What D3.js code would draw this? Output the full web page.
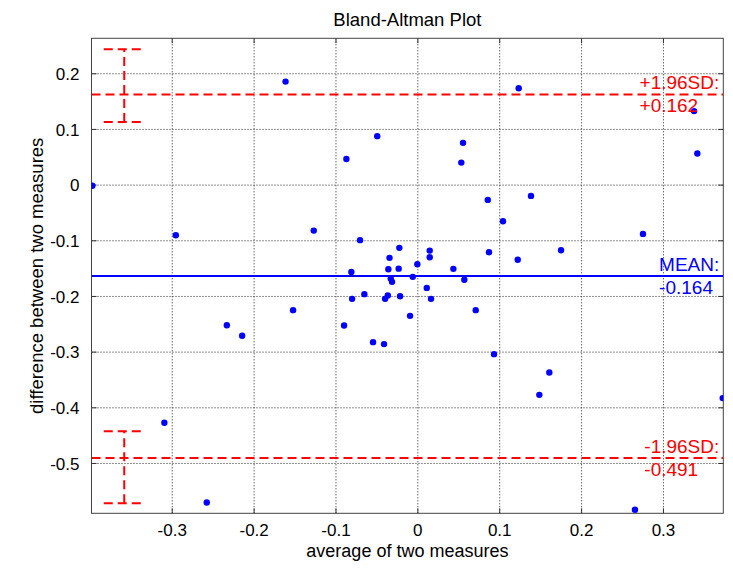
<!DOCTYPE html>
<html>
<head>
<meta charset="utf-8">
<script src="https://cdn.jsdelivr.net/npm/d3@7"></script>
<style>
  body { margin: 0; background: #fff; }
  svg { display: block; font-family: "Liberation Sans", Arial, sans-serif; }
</style>
</head>
<body>
<div id="container"><svg></svg></div>
<script>
let width = 733
let height = 572

// average of two measures
let avg = [-0.397, -0.295, -0.161, -0.049, -0.0867, 0.0558, 0.0537, 0.086, 0.1238, 0.338,
    0.342, 0.1388, 0.1046, 0.2756, 0.0875, 0.1755, 0.1226, -0.1265, -0.07, -0.022,
    -0.034, 0.0151, 0.0151, 0.0, -0.0806, -0.0354, -0.0228, 0.044, -0.0325, -0.0309,
    -0.0056, 0.0574, 0.0115, -0.0647, -0.0797, -0.0361, -0.0394, -0.0211, 0.0167, 0.0713,
    -0.0089, -0.1518, -0.2327, -0.214, -0.0895, -0.0541, -0.0407, -0.309, -0.2572, 0.0937,
    0.1612, 0.149, 0.373, 0.2658]
// difference between two measures
let diff = [-0.002, -0.091, 0.185, 0.087, 0.046, 0.075, 0.0395, -0.0275, 0.173, 0.132,
    0.056, -0.0203, -0.0657, -0.0885, -0.1214, -0.1178, -0.135, -0.0826, -0.0998, -0.1136,
    -0.1316, -0.1185, -0.1304, -0.143, -0.157, -0.152, -0.151, -0.1513, -0.1688, -0.1747,
    -0.1657, -0.171, -0.1855, -0.1968, -0.2052, -0.1993, -0.2052, -0.2004, -0.2052, -0.2255,
    -0.2357, -0.2255, -0.2525, -0.2716, -0.2531, -0.283, -0.2865, -0.4278, -0.571, -0.3045,
    -0.3375, -0.3776, -0.3835, -0.584]

let meanDiff = -0.164
let upperLoA = 0.162
let lowerLoA = -0.491
let upperCI = [0.1125, 0.243]
let lowerCI = [-0.5725, -0.443]
let ciX = -0.358
let ciCapHalf = 0.025

let xTicks = [-0.3, -0.2, -0.1, 0, 0.1, 0.2, 0.3]
let yTicks = [0.2, 0.1, 0, -0.1, -0.2, -0.3, -0.4, -0.5]
let xDomain = [-0.398, 0.3737]
let yDomain = [-0.5904, 0.2628]

let lines = [
    { value: upperLoA, color: 'red', dash: '9,5', top: '+1.96SD:', bottom: '+0.162' },
    { value: meanDiff, color: 'blue', dash: null, top: 'MEAN:', bottom: '-0.164' },
    { value: lowerLoA, color: 'red', dash: '9,5', top: '-1.96SD:', bottom: '-0.491' }
]

function fmt(d) {
    return String(+d.toFixed(1))   // plain hyphen minus like the original
}

function draw_main() {
    let padding = { left: 91.5, right: 9.7, top: 38.3, bottom: 58.7 }
    let svg = d3.select('#container').select('svg')
        .attr('width', width)
        .attr('height', height)

    let x = d3.scaleLinear().domain(xDomain).range([padding.left, width - padding.right])
    let y = d3.scaleLinear().domain(yDomain).range([height - padding.bottom, padding.top])
    let x0 = padding.left, x1 = width - padding.right
    let y0 = padding.top, y1 = height - padding.bottom

    svg.append('defs').append('clipPath').attr('id', 'plotclip')
        .append('rect').attr('x', x0).attr('y', y0).attr('width', x1 - x0).attr('height', y1 - y0)

    // grid
    let grid = svg.append('g')
    grid.append('g')
        .attr('transform', `translate(0, ${y1})`)
        .call(d3.axisBottom(x).tickValues(xTicks).tickSize(-(y1 - y0)).tickFormat(''))
    grid.append('g')
        .attr('transform', `translate(${x0}, 0)`)
        .call(d3.axisLeft(y).tickValues(yTicks).tickSize(-(x1 - x0)).tickFormat(''))
    grid.selectAll('.domain').remove()
    grid.selectAll('line')
        .attr('stroke', '#222')
        .attr('stroke-width', 1)
        .attr('stroke-dasharray', '1,2')

    // tick marks inside on all four sides
    let ticks = svg.append('g')
    ticks.append('g').attr('transform', `translate(0, ${y1})`)
        .call(d3.axisBottom(x).tickValues(xTicks).tickSize(-5).tickFormat(''))
    ticks.append('g').attr('transform', `translate(0, ${y0})`)
        .call(d3.axisTop(x).tickValues(xTicks).tickSize(-5).tickFormat(''))
    ticks.append('g').attr('transform', `translate(${x0}, 0)`)
        .call(d3.axisLeft(y).tickValues(yTicks).tickSize(-5).tickFormat(''))
    ticks.append('g').attr('transform', `translate(${x1}, 0)`)
        .call(d3.axisRight(y).tickValues(yTicks).tickSize(-5).tickFormat(''))
    ticks.selectAll('.domain').remove()
    ticks.selectAll('line').attr('stroke', '#333')

    // box
    svg.append('rect')
        .attr('x', x0).attr('y', y0)
        .attr('width', x1 - x0).attr('height', y1 - y0)
        .attr('fill', 'none')
        .attr('stroke', '#444')
        .attr('stroke-width', 1)

    // tick labels
    let xl = svg.append('g')
        .attr('transform', `translate(0, ${y1})`)
        .call(d3.axisBottom(x).tickValues(xTicks).tickSize(0).tickPadding(11).tickFormat(fmt))
    let yl = svg.append('g')
        .attr('transform', `translate(${x0}, 0)`)
        .call(d3.axisLeft(y).tickValues(yTicks).tickSize(0).tickPadding(12).tickFormat(fmt))
    ;[xl, yl].forEach(g => {
        g.select('.domain').remove()
        g.selectAll('text')
            .attr('font-family', '"Liberation Sans", Arial, sans-serif')
            .attr('font-size', 17)
            .attr('fill', '#000')
    })
    yl.selectAll('text').attr('dy', '0.36em')

    // axis labels + title
    svg.append('text')
        .attr('x', (x0 + x1) / 2).attr('y', 557)
        .attr('text-anchor', 'middle')
        .attr('font-size', 18)
        .text('average of two measures')
    svg.append('text')
        .attr('transform', `translate(43, ${(y0 + y1) / 2}) rotate(-90)`)
        .attr('text-anchor', 'middle')
        .attr('font-size', 18.5)
        .text('difference between two measures')
    svg.append('text')
        .attr('x', (x0 + x1) / 2).attr('y', 26)
        .attr('text-anchor', 'middle')
        .attr('font-size', 18.5)
        .text('Bland-Altman Plot')

    let plot = svg.append('g').attr('clip-path', 'url(#plotclip)')

    // mean and limits of agreement
    plot.selectAll('.hline')
        .data(lines)
        .enter().append('line')
        .attr('class', 'hline')
        .attr('x1', x0).attr('x2', x1)
        .attr('y1', d => y(d.value)).attr('y2', d => y(d.value))
        .attr('stroke', d => d.color)
        .attr('stroke-width', 2)
        .attr('stroke-dasharray', d => d.dash)

    // confidence bars for the limits
    ;[upperCI, lowerCI].forEach(ci => {
        let g = plot.append('g')
            .attr('stroke', 'red')
            .attr('stroke-width', 2)
            .attr('stroke-dasharray', '9,5')
            .attr('fill', 'none')
        g.append('line')
            .attr('x1', x(ciX)).attr('x2', x(ciX))
            .attr('y1', y(ci[0])).attr('y2', y(ci[1]))
        ci.forEach(v => {
            g.append('line')
                .attr('x1', x(ciX - ciCapHalf)).attr('x2', x(ciX + ciCapHalf))
                .attr('y1', y(v)).attr('y2', y(v))
        })
    })

    // labels on the right
    lines.forEach(d => {
        let t1 = svg.append('text')
            .attr('font-size', 19)
            .attr('fill', d.color)
            .attr('text-anchor', 'end')
            .attr('x', x1 - 4)
            .attr('y', y(d.value) - 5)
            .text(d.top)
        let left = x1 - 4 - t1.node().getComputedTextLength()
        svg.append('text')
            .attr('font-size', 19)
            .attr('fill', d.color)
            .attr('x', left)
            .attr('y', y(d.value) + 18)
            .text(d.bottom)
    })

    // points
    plot.append('g')
        .selectAll('circle')
        .data(avg.map((a, i) => [a, diff[i]]))
        .enter().append('circle')
        .attr('cx', d => x(d[0]))
        .attr('cy', d => y(d[1]))
        .attr('r', 3.2)
        .style('fill', 'blue')
}

draw_main()
</script>
</body>
</html>
